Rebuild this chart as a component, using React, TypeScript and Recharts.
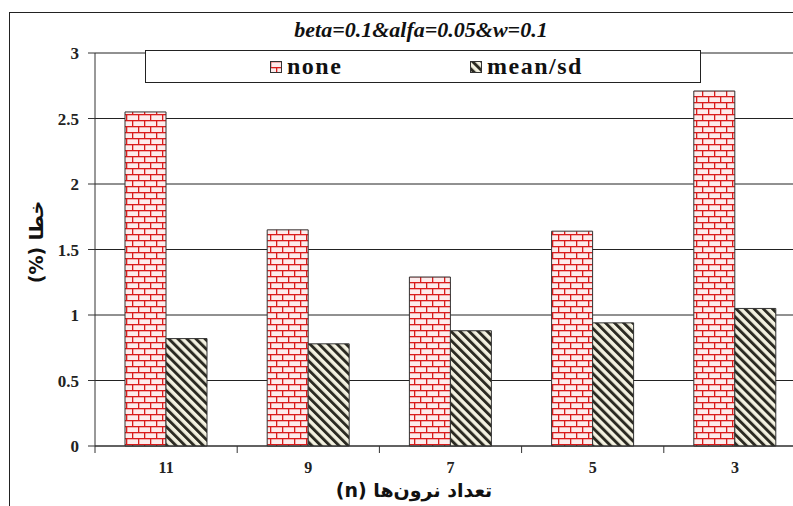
import { BarChart, Bar, XAxis, YAxis, CartesianGrid, Legend } from 'recharts'

const categories = ['11', '9', '7', '5', '3']
const noneValues = [2.55, 1.65, 1.29, 1.64, 2.71]
const meanSdValues = [0.82, 0.78, 0.88, 0.94, 1.05]
const yTicks = [0, 0.5, 1, 1.5, 2, 2.5, 3]

const data = categories.map((n, i) => ({ n, none: noneValues[i], meanSd: meanSdValues[i] }))

const CHART_W = 820
const CHART_H = 506
const Y_W = 95
const RIGHT = 14
const BAND = (CHART_W - Y_W - RIGHT) / categories.length

const SERIF = 'Liberation Serif, Times New Roman, serif'
const ARABIC = 'DejaVu Sans, sans-serif'

function XTick(props: any) {
  const { x, y, payload } = props
  const bx = x - BAND / 2
  return (
    <g>
      <line x1={bx} x2={bx} y1={y - 7} y2={y} stroke="#333" />
      <text x={x} y={y + 20} textAnchor="middle" style={{ fontFamily: SERIF, fontWeight: 700, fontSize: 16 }} fill="#222">
        {payload.value}
      </text>
    </g>
  )
}

function XTitle() {
  return (
    <text x={414} y={497} textAnchor="middle" direction="rtl" style={{ fontFamily: ARABIC, fontWeight: 700, fontSize: 19 }} fill="#111">
      تعداد نرون‌ها (n)
    </text>
  )
}

function YTitle() {
  const cx = 36
  const cy = 242
  return (
    <text
      x={cx}
      y={cy}
      transform={`rotate(-90 ${cx} ${cy})`}
      textAnchor="middle"
      dominantBaseline="central"
      direction="rtl"
      style={{ fontFamily: ARABIC, fontWeight: 700, fontSize: 19 }}
      fill="#111"
    >
      خطا (%)
    </text>
  )
}

function LegendIcon({ fill }: { fill: string }) {
  return (
    <svg width={12} height={12} style={{ display: 'block' }}>
      <rect x={0.5} y={0.5} width={11} height={11} fill={fill} stroke="#333" />
    </svg>
  )
}

function LegendBox() {
  const item = (left: number, fill: string, label: string) => (
    <div style={{ position: 'absolute', left, top: 0, height: 31, display: 'flex', alignItems: 'center', gap: 5 }}>
      <LegendIcon fill={fill} />
      <span style={{ fontFamily: SERIF, fontWeight: 700, fontSize: 24, letterSpacing: 1.5, color: '#111' }}>{label}</span>
    </div>
  )
  return (
    <div style={{ position: 'relative', width: 556, height: 33, boxSizing: 'border-box', border: '1px solid #222', background: '#fff' }}>
      {item(124, 'url(#brick)', 'none')}
      {item(324, 'url(#hatch)', 'mean/sd')}
    </div>
  )
}

export default function App() {
  return (
    <div style={{ position: 'fixed', left: 0, top: 0, width: 793, height: 506, overflow: 'hidden', background: '#fff' }}>
      <div
        style={{
          position: 'absolute',
          left: 9,
          top: 12,
          width: 900,
          height: 600,
          borderLeft: '1px solid #222',
          borderTop: '1px solid #222',
        }}
      />
      <div
        style={{
          position: 'absolute',
          left: 0,
          width: 842,
          top: 17,
          textAlign: 'center',
          fontFamily: SERIF,
          fontStyle: 'italic',
          fontWeight: 700,
          fontSize: 22,
          color: '#111',
        }}
      >
        beta=0.1&amp;alfa=0.05&amp;w=0.1
      </div>
      <div style={{ position: 'absolute', left: 0, top: 0 }}>
        <BarChart width={CHART_W} height={CHART_H} data={data} margin={{ top: 53, right: RIGHT, left: 0, bottom: 0 }} barSize={41} barGap={0}>
          <defs>
            <pattern id="brick" patternUnits="userSpaceOnUse" width={12} height={12}>
              <rect x={0} y={0} width={12} height={12} fill="#fdecec" />
              <rect x={0} y={0} width={12} height={1.3} fill="#d91c1c" />
              <rect x={0} y={6} width={12} height={1.3} fill="#d91c1c" />
              <rect x={0} y={0} width={1.3} height={6} fill="#d91c1c" />
              <rect x={6} y={6} width={1.3} height={6} fill="#d91c1c" />
            </pattern>
            <pattern id="hatch" patternUnits="userSpaceOnUse" width={6.4} height={6.4} patternTransform="rotate(-45)">
              <rect x={0} y={0} width={6.4} height={6.4} fill="#f3f1e0" />
              <rect x={0} y={0} width={2.9} height={6.4} fill="#2b2a22" />
            </pattern>
          </defs>
          <CartesianGrid vertical={false} stroke="#222" />
          <XAxis
            dataKey="n"
            tickLine={false}
            tickSize={7}
            tickMargin={0}
            height={60}
            axisLine={{ stroke: '#333' }}
            tick={<XTick />}
            interval={0}
            label={<XTitle />}
          />
          <YAxis
            width={Y_W}
            domain={[0, 3]}
            ticks={yTicks}
            tickSize={7}
            tickMargin={9}
            axisLine={{ stroke: '#333' }}
            tickLine={{ stroke: '#333' }}
            tick={{ fontFamily: SERIF, fontWeight: 700, fontSize: 17, fill: '#222' }}
            label={<YTitle />}
          />
          <Legend
            layout="horizontal"
            verticalAlign="middle"
            align="center"
            content={<LegendBox />}
            wrapperStyle={{ left: 145, top: 50, width: 556, height: 33 }}
          />
          <Bar dataKey="none" name="none" fill="url(#brick)" stroke="#333" strokeWidth={1} isAnimationActive={false} />
          <Bar dataKey="meanSd" name="mean/sd" fill="url(#hatch)" stroke="#333" strokeWidth={1} isAnimationActive={false} />
        </BarChart>
      </div>
    </div>
  )
}
